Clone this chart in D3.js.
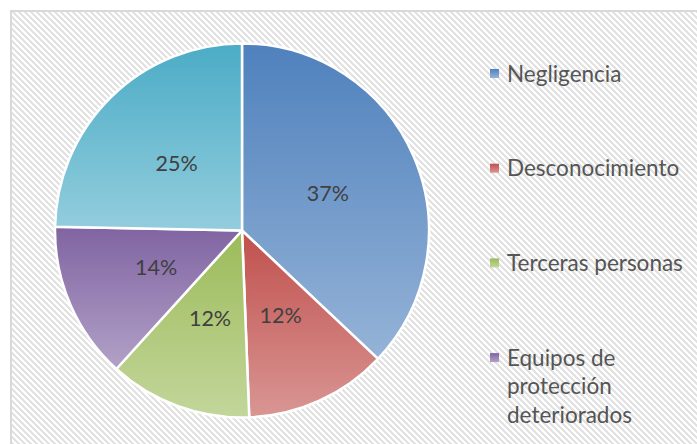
<!DOCTYPE html>
<html>
<head>
<meta charset="utf-8">
<script src="https://cdn.jsdelivr.net/npm/d3@7"></script>
<style>
  html, body { margin: 0; padding: 0; background: #fff; }
  svg { display: block; }
</style>
</head>
<body>
<svg id="chart"></svg>
<script>
const width = 697, height = 444;

// data (counts give the printed percentages)
const categories = ["Negligencia", "Desconocimiento", "Terceras personas", "Equipos de protección deteriorados", "Otros"];
const counts = [30, 10, 10, 11, 20];
const topColors = ["#4f81bd", "#c0504d", "#9bbb59", "#8064a2", "#4bacc6"];
const bottomColors = ["#95b3d7", "#d99694", "#c3d69b", "#b2a1c7", "#93cddd"];

const svg = d3.select("#chart")
    .attr("width", width)
    .attr("height", height);

const defs = svg.append("defs");

// diagonal hatch of the chart area
const hatch = defs.append("pattern")
    .attr("id", "hatch")
    .attr("patternUnits", "userSpaceOnUse")
    .attr("width", 6)
    .attr("height", 6);
hatch.append("rect").attr("width", 6).attr("height", 6).attr("fill", "#ffffff");
for (let i = 0; i < 6; i++) {
    hatch.append("rect")
        .attr("x", i).attr("y", i)
        .attr("width", 3).attr("height", 1)
        .attr("fill", "#e2e2e2")
        .attr("shape-rendering", "crispEdges");
    if (i > 3) {
        hatch.append("rect")
            .attr("x", i - 6).attr("y", i)
            .attr("width", 3).attr("height", 1)
            .attr("fill", "#e2e2e2")
            .attr("shape-rendering", "crispEdges");
    }
}

// one vertical gradient per slice
categories.forEach((c, i) => {
    const g = defs.append("linearGradient")
        .attr("id", "grad" + i)
        .attr("x1", 0).attr("y1", 0)
        .attr("x2", 0).attr("y2", 1);
    g.append("stop").attr("offset", "0%").attr("stop-color", topColors[i]);
    g.append("stop").attr("offset", "100%").attr("stop-color", bottomColors[i]);
});

// chart area with border
svg.append("rect")
    .attr("x", 11).attr("y", 11)
    .attr("width", width + 20).attr("height", height + 20)
    .attr("fill", "url(#hatch)")
    .attr("stroke", "#d9d9d9")
    .attr("stroke-width", 2);

// pie
const cx = 242, cy = 230.5, radius = 187;
const total = d3.sum(counts);

const pie = d3.pie().sort(null).value(d => d);
const arc = d3.arc().innerRadius(0).outerRadius(radius);

const gPie = svg.append("g").attr("transform", `translate(${cx},${cy})`);

const slices = gPie.selectAll("g.slice")
    .data(pie(counts))
    .join("g")
    .attr("class", "slice");

slices.append("path")
    .attr("d", arc)
    .attr("fill", (d, i) => `url(#grad${i})`)
    .attr("stroke", "#ffffff")
    .attr("stroke-width", 2.5)
    .attr("stroke-linejoin", "round");

slices.append("text")
    .attr("transform", d => `translate(${arc.centroid(d)})`)
    .attr("text-anchor", "middle")
    .attr("dy", "0.36em")
    .attr("font-family", "Lato, 'Open Sans', sans-serif")
    .attr("font-size", 21.5)
    .attr("fill", "#404040")
    .text(d => d3.format(".0%")(d.value / total));

// legend (entries that fall below the chart are clipped, as in the original)
const legend = svg.append("g")
    .attr("font-family", "Lato, 'Open Sans', sans-serif")
    .attr("font-size", 22.5)
    .attr("fill", "#555555");

const lineHeight = 28.5;
const rowGap = 66.2;
const maxWidth = 185;

let y = 73.5;
categories.forEach((name, i) => {
    if (y > height) return;
    const item = legend.append("g")
        .attr("transform", `translate(490,${y})`);

    item.append("rect")
        .attr("x", 0).attr("y", -4.5)
        .attr("width", 9).attr("height", 9)
        .attr("fill", `url(#grad${i})`);

    const text = item.append("text");
    const words = name.split(" ");
    let line = [];
    let n = 1;
    let tspan = text.append("tspan").attr("x", 17).attr("dy", "0.36em");
    words.forEach(w => {
        line.push(w);
        tspan.text(line.join(" "));
        if (tspan.node().getComputedTextLength() > maxWidth && line.length > 1) {
            line.pop();
            tspan.text(line.join(" "));
            line = [w];
            n++;
            tspan = text.append("tspan").attr("x", 17).attr("dy", lineHeight).text(w);
        }
    });

    y += (n - 1) * lineHeight + lineHeight + rowGap;
});
</script>
</body>
</html>
